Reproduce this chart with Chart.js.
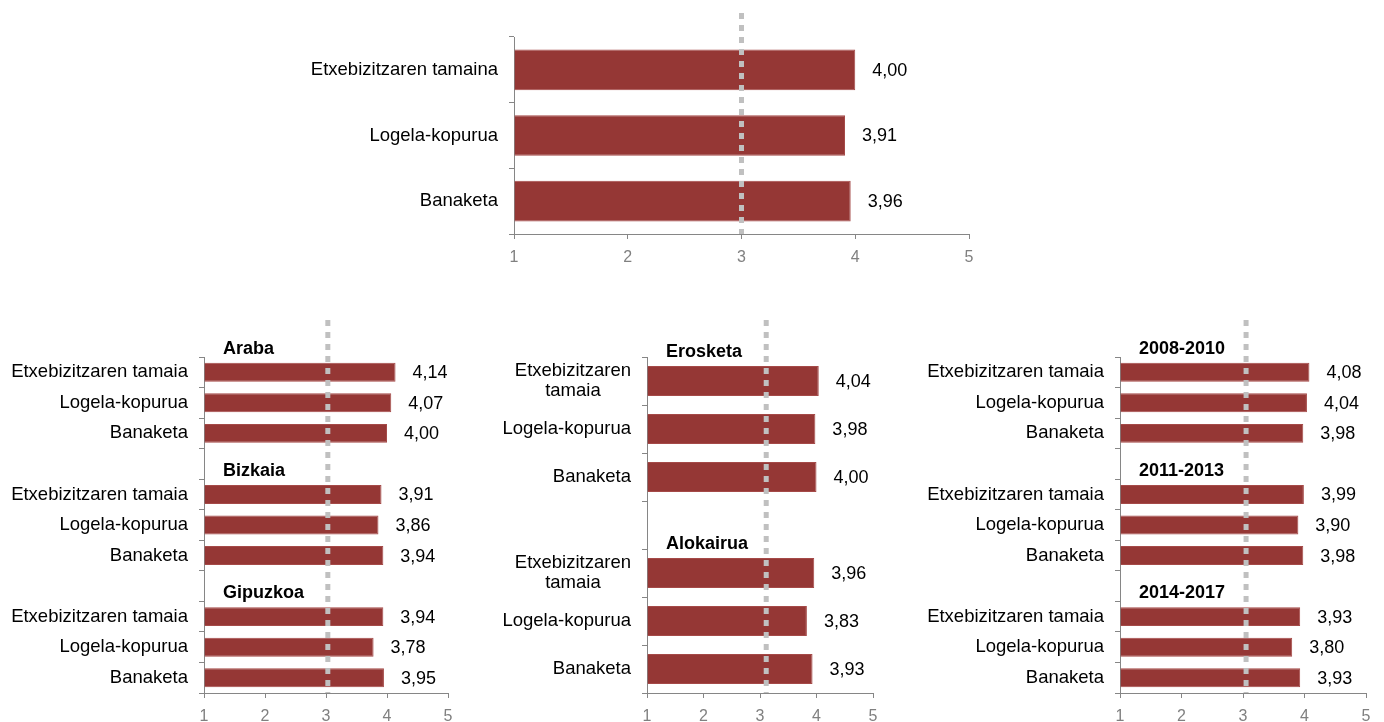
<!DOCTYPE html>
<html>
<head>
<meta charset="utf-8">
<script src="https://cdn.jsdelivr.net/npm/chart.js@4.4.1/dist/chart.umd.min.js"></script>
<style>
  body { margin: 0; background: #fff; width: 1384px; height: 722px; overflow: hidden; position: relative; }
  canvas { position: absolute; }
</style>
</head>
<body>
<canvas id="chartTop" width="700" height="280" style="left:300px;top:0px"></canvas>
<canvas id="chartLeft" width="480" height="422" style="left:0px;top:300px"></canvas>
<canvas id="chartMid" width="420" height="422" style="left:480px;top:300px"></canvas>
<canvas id="chartRight" width="484" height="422" style="left:900px;top:300px"></canvas>
<script>
// tick labels of the value axis
var xTickValues = [1, 2, 3, 4, 5];

// top chart (total)
var topLabels = ['Etxebizitzaren tamaina', 'Logela-kopurua', 'Banaketa'];
var topValues = [4.00, 3.91, 3.96];
var topRef = 3;

// bottom charts share the item names
var items = ['Etxebizitzaren tamaia', 'Logela-kopurua', 'Banaketa'];
var itemsWrapped = [['Etxebizitzaren', 'tamaia'], 'Logela-kopurua', 'Banaketa'];

// by territory
var lurraldeak = ['Araba', 'Bizkaia', 'Gipuzkoa'];
var arabaValues = [4.14, 4.07, 4.00];
var bizkaiaValues = [3.91, 3.86, 3.94];
var gipuzkoaValues = [3.94, 3.78, 3.95];
var lurraldeRef = 3.03;

// by tenure
var erabilerak = ['Erosketa', 'Alokairua'];
var erosketaValues = [4.04, 3.98, 4.00];
var alokairuaValues = [3.96, 3.83, 3.93];
var erabileraRef = 3.11;

// by period
var aldiak = ['2008-2010', '2011-2013', '2014-2017'];
var aldia1Values = [4.08, 4.04, 3.98];
var aldia2Values = [3.99, 3.90, 3.98];
var aldia3Values = [3.93, 3.80, 3.93];
var aldiRef = 3.05;

var FONT = '"Liberation Sans", Arial, sans-serif';
var BAR = '#953735';
var AXIS = '#868686';

// groups -> labels with an empty slot between groups
function buildGroups(names, valueLists, labels) {
    var out = { labels: [], data: [], titles: [] };
    names.forEach(function (name, g) {
        if (g > 0) {
            out.labels.push('');
            out.data.push(null);
        }
        out.titles.push({ index: out.labels.length, text: name });
        labels.forEach(function (l, k) {
            out.labels.push(l);
            out.data.push(valueLists[g][k]);
        });
    });
    return out;
}

var extras = {
    id: 'extras',
    afterDatasetsDraw: function (chart, args, opts) {
        var ctx = chart.ctx;
        var area = chart.chartArea;
        var xs = chart.scales.x, ys = chart.scales.y;
        var meta = chart.getDatasetMeta(0);
        var values = chart.data.datasets[0].data;
        ctx.save();

        // category labels (multi-line ones centred inside their block)
        ctx.font = '18.5px ' + FONT;
        ctx.fillStyle = '#000';
        ctx.textBaseline = 'middle';
        ctx.textAlign = 'center';
        chart.data.labels.forEach(function (lab, i) {
            if (!lab) return;
            var lines = Array.isArray(lab) ? lab : [lab];
            var w = 0;
            lines.forEach(function (l) { w = Math.max(w, ctx.measureText(l).width); });
            var cx = area.left - 16 - w / 2;
            var yc = ys.getPixelForValue(i);
            lines.forEach(function (l, k) {
                ctx.fillText(l, cx, yc + (k - (lines.length - 1) / 2) * 20);
            });
        });

        // value labels
        ctx.font = '18px ' + FONT;
        ctx.textAlign = 'left';
        meta.data.forEach(function (bar, i) {
            if (values[i] == null) return;
            ctx.fillText(values[i].toFixed(2).replace('.', ','), bar.x + 17, bar.y + 1);
        });

        // reference line
        var rx = xs.getPixelForValue(opts.ref);
        ctx.strokeStyle = '#c0c0c0';
        ctx.lineWidth = 5;
        ctx.setLineDash([6, 6]);
        ctx.beginPath();
        ctx.moveTo(rx, area.top - opts.above);
        ctx.lineTo(rx, area.bottom);
        ctx.stroke();
        ctx.setLineDash([]);

        // group titles
        ctx.font = 'bold 18px ' + FONT;
        ctx.fillStyle = '#000';
        (opts.titles || []).forEach(function (t) {
            var bar = meta.data[t.index];
            ctx.fillText(t.text, area.left + 19, bar.y - bar.height / 2 - 14);
        });
        ctx.restore();
    }
};

function makeChart(id, labels, data, cfg) {
    return new Chart(document.getElementById(id), {
        type: 'bar',
        data: {
            labels: labels,
            datasets: [{
                data: data,
                base: 1,
                backgroundColor: BAR,
                borderColor: '#a54a48',
                borderWidth: 1,
                categoryPercentage: 1,
                barPercentage: 0.62
            }]
        },
        options: {
            indexAxis: 'y',
            responsive: false,
            animation: false,
            layout: { padding: { top: cfg.top, right: cfg.right, left: 0, bottom: 0 } },
            plugins: {
                legend: { display: false },
                tooltip: { enabled: false },
                extras: { ref: cfg.ref, above: cfg.above, titles: cfg.titles }
            },
            scales: {
                x: {
                    type: 'linear',
                    min: 1,
                    max: 5,
                    afterBuildTicks: function (s) { s.ticks = xTickValues.map(function (v) { return { value: v }; }); },
                    afterFit: function (s) { s.height = cfg.xHeight; },
                    grid: { drawOnChartArea: false, tickLength: 5, color: AXIS },
                    border: { color: AXIS, width: 1 },
                    ticks: { color: '#808080', padding: 9, font: { family: FONT, size: 16 } }
                },
                y: {
                    afterFit: function (s) { s.width = cfg.yWidth; },
                    grid: { drawOnChartArea: false, tickLength: 5, color: AXIS, offset: true },
                    border: { color: AXIS, width: 1 },
                    ticks: { display: false }
                }
            }
        },
        plugins: [extras]
    });
}

makeChart('chartTop', topLabels, topValues,
    { top: 37, right: 31, xHeight: 46, yWidth: 214, ref: topRef, above: 24 });

var g1 = buildGroups(lurraldeak, [arabaValues, bizkaiaValues, gipuzkoaValues], items);
makeChart('chartLeft', g1.labels, g1.data,
    { top: 57, right: 32, xHeight: 29, yWidth: 204, ref: lurraldeRef, above: 37, titles: g1.titles });

var g2 = buildGroups(erabilerak, [erosketaValues, alokairuaValues], itemsWrapped);
makeChart('chartMid', g2.labels, g2.data,
    { top: 57, right: 27, xHeight: 29, yWidth: 167, ref: erabileraRef, above: 37, titles: g2.titles });

var g3 = buildGroups(aldiak, [aldia1Values, aldia2Values, aldia3Values], items);
makeChart('chartRight', g3.labels, g3.data,
    { top: 57, right: 18, xHeight: 29, yWidth: 220, ref: aldiRef, above: 37, titles: g3.titles });
</script>
</body>
</html>
